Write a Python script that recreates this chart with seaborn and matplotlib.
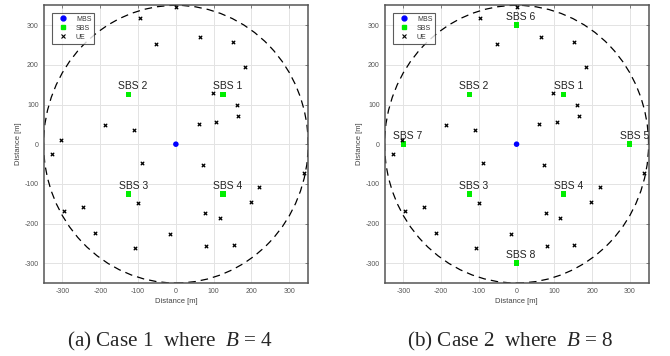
import numpy as np
import pandas as pd
import seaborn as sns
import matplotlib
matplotlib.use('Agg')
import matplotlib.pyplot as plt
from matplotlib.patches import Circle
from matplotlib.lines import Line2D

# user equipment positions [m]
ue_x = [0, -96, -53, 64, 151, 183, 97, 161, 165, 106, 60, -188, -111, -305, -327,
        -90, 73, 339, 221, 198, 78, 116, -100, -245, -295, -213, -15, -108, 81, 153]
ue_y = [345, 317, 252, 271, 258, 195, 128, 99, 70, 57, 52, 48, 37, 10, -24,
        -48, -53, -72, -109, -146, -173, -185, -149, -159, -168, -224, -227, -262, -256, -255]

# small base stations
sbs_names = ['SBS 1', 'SBS 2', 'SBS 3', 'SBS 4', 'SBS 5', 'SBS 6', 'SBS 7', 'SBS 8']
sbs_x = [125, -125, -125, 125, 300, 0, -300, 0]
sbs_y = [125, 125, -125, -125, 0, 300, 0, -300]

mbs_x = [0]
mbs_y = [0]
radius = 350

cases = [4, 8]
captions = ['(a) Case 1  where  $B$ = 4', '(b) Case 2  where  $B$ = 8']

sns.set_style('whitegrid')
plt.rcParams['font.family'] = ['Liberation Sans', 'DejaVu Sans']
plt.rcParams['axes.unicode_minus'] = False
plt.rcParams['mathtext.fontset'] = 'custom'
plt.rcParams['mathtext.rm'] = 'Liberation Serif'
plt.rcParams['mathtext.it'] = 'Liberation Serif:italic'

ue = pd.DataFrame({'x': ue_x, 'y': ue_y})
sbs = pd.DataFrame({'name': sbs_names, 'x': sbs_x, 'y': sbs_y})
mbs = pd.DataFrame({'x': mbs_x, 'y': mbs_y})

fig = plt.figure(figsize=(6.7, 3.56), dpi=100)
axes = [fig.add_axes([0.065, 0.205, 0.395, 0.78]),
        fig.add_axes([0.574, 0.205, 0.394, 0.78])]
cap_x = [0.254, 0.762]

for ax, B, cap, cx in zip(axes, cases, captions, cap_x):
    s = sbs.iloc[:B]
    ax.add_patch(Circle((0, 0), radius, fill=False, ls=(0, (6, 4)), lw=0.9, color='black', zorder=2))
    sns.scatterplot(data=mbs, x='x', y='y', ax=ax, color='blue', marker='o', s=16,
                    edgecolor='none', zorder=4)
    sns.scatterplot(data=s, x='x', y='y', ax=ax, color='#00ee00', marker='s', s=16,
                    edgecolor='none', zorder=4)
    sns.scatterplot(data=ue, x='x', y='y', ax=ax, color='black', marker='x', s=6,
                    linewidth=0.9, zorder=4)
    for _, r in s.iterrows():
        ax.text(r['x'] + 12, r['y'] + 8, r['name'], ha='center', va='bottom',
                fontsize=7.5, color='#222222', zorder=5)

    ax.set_xlim(-350, 350)
    ax.set_ylim(-350, 350)
    ax.set_xticks([-300, -200, -100, 0, 100, 200, 300])
    ax.set_yticks([-300, -200, -100, 0, 100, 200, 300])
    ax.tick_params(labelsize=5, colors='#555555', length=2, direction='in', width=0.5,
                   top=True, right=True)
    ax.set_xlabel('Distance [m]', fontsize=5.5, color='#444444', labelpad=2)
    ax.set_ylabel('Distance [m]', fontsize=5.5, color='#444444', labelpad=2)
    ax.grid(True, color='#e3e3e3', lw=0.7)
    for sp in ax.spines.values():
        sp.set_color('#555555')
        sp.set_linewidth(1.1)

    handles = [Line2D([], [], marker='o', color='blue', ls='none', ms=3.5),
               Line2D([], [], marker='s', color='#00ee00', ls='none', ms=3.5),
               Line2D([], [], marker='x', color='black', ls='none', ms=2.5, mew=0.8)]
    leg = ax.legend(handles, ['MBS', 'SBS', 'UE'], loc='upper left', fontsize=5,
                    frameon=True, fancybox=False, edgecolor='#333333',
                    bbox_to_anchor=(0.02, 0.985), borderpad=0.4, handletextpad=0.8,
                    labelspacing=0.3, handlelength=2.2)
    leg.get_frame().set_linewidth(0.8)
    for t in leg.get_texts():
        t.set_color('#333333')

    fig.text(cx, 0.042, cap, ha='center', va='center', fontsize=15.2,
             family='Liberation Serif')

fig.savefig('out.png', dpi=100)
